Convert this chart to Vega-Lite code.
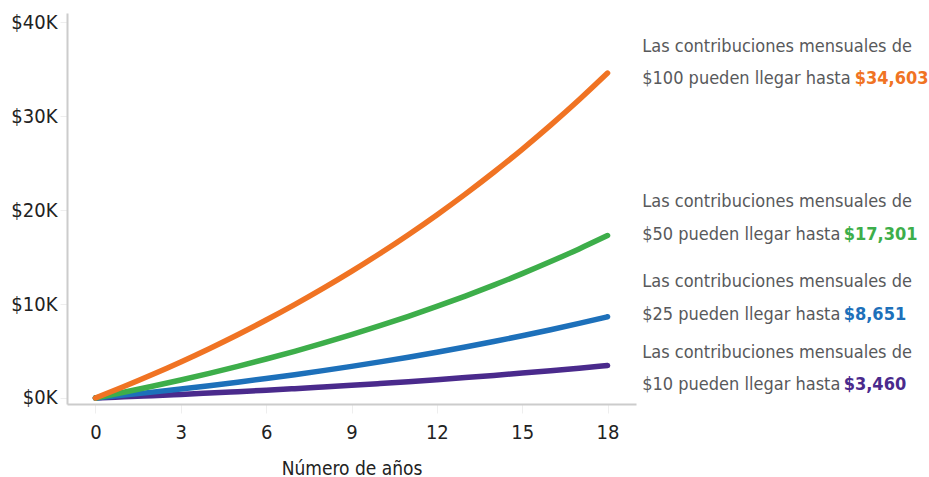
{
  "$schema": "https://vega.github.io/schema/vega-lite/v6.json",
  "width": 569,
  "height": 391,
  "autosize": {"type": "none"},
  "padding": {"left": 67, "top": 13, "right": 293, "bottom": 73},
  "background": "white",
  "config": {
    "view": {"stroke": null},
    "font": "DejaVu Sans Condensed, sans-serif"
  },
  "datasets": {
    "series": [
      {"year": 0, "plan": "$10", "value": 0},
      {"year": 1, "plan": "$10", "value": 122},
      {"year": 2, "plan": "$10", "value": 250},
      {"year": 3, "plan": "$10", "value": 384},
      {"year": 4, "plan": "$10", "value": 525},
      {"year": 5, "plan": "$10", "value": 674},
      {"year": 6, "plan": "$10", "value": 830},
      {"year": 7, "plan": "$10", "value": 994},
      {"year": 8, "plan": "$10", "value": 1167},
      {"year": 9, "plan": "$10", "value": 1348},
      {"year": 10, "plan": "$10", "value": 1539},
      {"year": 11, "plan": "$10", "value": 1739},
      {"year": 12, "plan": "$10", "value": 1950},
      {"year": 13, "plan": "$10", "value": 2171},
      {"year": 14, "plan": "$10", "value": 2404},
      {"year": 15, "plan": "$10", "value": 2649},
      {"year": 16, "plan": "$10", "value": 2906},
      {"year": 17, "plan": "$10", "value": 3176},
      {"year": 18, "plan": "$10", "value": 3460},
      {"year": 0, "plan": "$25", "value": 0},
      {"year": 1, "plan": "$25", "value": 304},
      {"year": 2, "plan": "$25", "value": 624},
      {"year": 3, "plan": "$25", "value": 960},
      {"year": 4, "plan": "$25", "value": 1313},
      {"year": 5, "plan": "$25", "value": 1684},
      {"year": 6, "plan": "$25", "value": 2075},
      {"year": 7, "plan": "$25", "value": 2485},
      {"year": 8, "plan": "$25", "value": 2917},
      {"year": 9, "plan": "$25", "value": 3370},
      {"year": 10, "plan": "$25", "value": 3847},
      {"year": 11, "plan": "$25", "value": 4348},
      {"year": 12, "plan": "$25", "value": 4874},
      {"year": 13, "plan": "$25", "value": 5428},
      {"year": 14, "plan": "$25", "value": 6010},
      {"year": 15, "plan": "$25", "value": 6622},
      {"year": 16, "plan": "$25", "value": 7265},
      {"year": 17, "plan": "$25", "value": 7940},
      {"year": 18, "plan": "$25", "value": 8651},
      {"year": 0, "plan": "$50", "value": 0},
      {"year": 1, "plan": "$50", "value": 608},
      {"year": 2, "plan": "$50", "value": 1248},
      {"year": 3, "plan": "$50", "value": 1920},
      {"year": 4, "plan": "$50", "value": 2626},
      {"year": 5, "plan": "$50", "value": 3369},
      {"year": 6, "plan": "$50", "value": 4150},
      {"year": 7, "plan": "$50", "value": 4970},
      {"year": 8, "plan": "$50", "value": 5834},
      {"year": 9, "plan": "$50", "value": 6740},
      {"year": 10, "plan": "$50", "value": 7694},
      {"year": 11, "plan": "$50", "value": 8696},
      {"year": 12, "plan": "$50", "value": 9749},
      {"year": 13, "plan": "$50", "value": 10856},
      {"year": 14, "plan": "$50", "value": 12019},
      {"year": 15, "plan": "$50", "value": 13243},
      {"year": 16, "plan": "$50", "value": 14529},
      {"year": 17, "plan": "$50", "value": 15880},
      {"year": 18, "plan": "$50", "value": 17301},
      {"year": 0, "plan": "$100", "value": 0},
      {"year": 1, "plan": "$100", "value": 1217},
      {"year": 2, "plan": "$100", "value": 2496},
      {"year": 3, "plan": "$100", "value": 3840},
      {"year": 4, "plan": "$100", "value": 5253},
      {"year": 5, "plan": "$100", "value": 6738},
      {"year": 6, "plan": "$100", "value": 8300},
      {"year": 7, "plan": "$100", "value": 9941},
      {"year": 8, "plan": "$100", "value": 11667},
      {"year": 9, "plan": "$100", "value": 13480},
      {"year": 10, "plan": "$100", "value": 15387},
      {"year": 11, "plan": "$100", "value": 17392},
      {"year": 12, "plan": "$100", "value": 19497},
      {"year": 13, "plan": "$100", "value": 21712},
      {"year": 14, "plan": "$100", "value": 24039},
      {"year": 15, "plan": "$100", "value": 26486},
      {"year": 16, "plan": "$100", "value": 29058},
      {"year": 17, "plan": "$100", "value": 31760},
      {"year": 18, "plan": "$100", "value": 34603}
    ],
    "labels": [
      {"plan": "$100", "end": 34603, "line1": "Las contribuciones mensuales de", "line2": "$100 pueden llegar hasta", "amount": "$34,603"},
      {"plan": "$50", "end": 17301, "line1": "Las contribuciones mensuales de", "line2": "$50 pueden llegar hasta", "amount": "$17,301"},
      {"plan": "$25", "end": 8651, "line1": "Las contribuciones mensuales de", "line2": "$25 pueden llegar hasta", "amount": "$8,651"},
      {"plan": "$10", "end": 3460, "line1": "Las contribuciones mensuales de", "line2": "$10 pueden llegar hasta", "amount": "$3,460"}
    ]
  },
  "layer": [
    {
      "data": {"name": "series"},
      "mark": {"type": "line", "strokeWidth": 5.5, "strokeCap": "round", "strokeJoin": "round", "interpolate": "monotone", "clip": false},
      "encoding": {
        "x": {
          "field": "year", "type": "quantitative",
          "scale": {"domain": [-1, 19], "nice": false, "zero": false},
          "axis": {
            "values": [0, 3, 6, 9, 12, 15, 18],
            "title": "Número de años",
            "titleFont": "DejaVu Sans Condensed, sans-serif",
            "titleFontSize": 19,
            "titleFontWeight": "normal",
            "titleColor": "#222222",
            "titleBaseline": "alphabetic",
            "titleY": 70,
            "labelFont": "DejaVu Sans Condensed, sans-serif",
            "labelFontSize": 20,
            "labelColor": "#222222",
            "labelBaseline": "alphabetic",
            "labelPadding": 25,
            "tickSize": 9,
            "tickColor": "#EEEEEE",
            "tickWidth": 1,
            "domainColor": "#CCCCCC",
            "domainWidth": 2,
            "grid": false
          }
        },
        "y": {
          "field": "value", "type": "quantitative",
          "scale": {"domain": [-640, 41000], "nice": false, "zero": false},
          "axis": {
            "values": [0, 10000, 20000, 30000, 40000],
            "labelExpr": "'$' + format(datum.value / 1000, 'd') + 'K'",
            "title": null,
            "labelFont": "DejaVu Sans Condensed, sans-serif",
            "labelFontSize": 20,
            "labelColor": "#222222",
            "labelFlush": true,
            "labelPadding": 3,
            "tickSize": 7,
            "tickColor": "#EEEEEE",
            "tickWidth": 1,
            "domainColor": "#CCCCCC",
            "domainWidth": 2,
            "grid": false
          }
        },
        "color": {
          "field": "plan", "type": "nominal",
          "scale": {"domain": ["$10", "$25", "$50", "$100"], "range": ["#4A2A8C", "#1D70BA", "#3DAE4A", "#F07323"]},
          "legend": null
        },
        "order": {"field": "year", "type": "quantitative"}
      }
    },
    {
      "data": {"name": "labels"},
      "mark": {
        "type": "text", "align": "left", "baseline": "alphabetic",
        "font": "DejaVu Sans Condensed, sans-serif", "fontSize": 18, "color": "#58595B", "clip": false,
        "dy": {"expr": "(datum.plan === '$100' ? 11 : datum.plan === '$50' ? 4 : datum.plan === '$25' ? 3.2 : 24.5) - 32.5"}
      },
      "encoding": {
        "x": {"datum": 19.22},
        "y": {"field": "end", "type": "quantitative"},
        "text": {"field": "line1"}
      }
    },
    {
      "data": {"name": "labels"},
      "mark": {
        "type": "text", "align": "left", "baseline": "alphabetic",
        "font": "DejaVu Sans Condensed, sans-serif", "fontSize": 18, "color": "#58595B", "clip": false,
        "dy": {"expr": "datum.plan === '$100' ? 11 : datum.plan === '$50' ? 4 : datum.plan === '$25' ? 3.2 : 24.5"}
      },
      "encoding": {
        "x": {"datum": 19.22},
        "y": {"field": "end", "type": "quantitative"},
        "text": {"field": "line2"}
      }
    },
    {
      "data": {"name": "labels"},
      "mark": {
        "type": "text", "align": "left", "baseline": "alphabetic",
        "font": "DejaVu Sans Condensed, sans-serif", "fontSize": 18, "fontWeight": "bold", "clip": false,
        "dx": {"expr": "datum.plan === '$100' ? 11 : 0"},
        "dy": {"expr": "datum.plan === '$100' ? 11 : datum.plan === '$50' ? 4 : datum.plan === '$25' ? 3.2 : 24.5"}
      },
      "encoding": {
        "x": {"datum": 26.3},
        "y": {"field": "end", "type": "quantitative"},
        "text": {"field": "amount"},
        "color": {
          "field": "plan", "type": "nominal",
          "scale": {"domain": ["$10", "$25", "$50", "$100"], "range": ["#4A2A8C", "#1D70BA", "#3DAE4A", "#F07323"]},
          "legend": null
        }
      }
    }
  ]
}
